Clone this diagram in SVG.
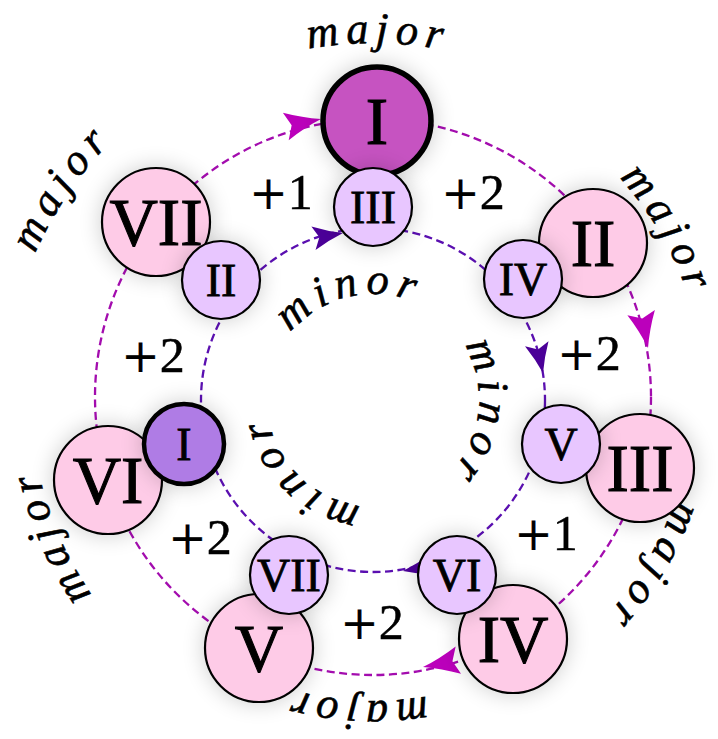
<svg xmlns="http://www.w3.org/2000/svg" xmlns:xlink="http://www.w3.org/1999/xlink" width="718" height="739" viewBox="0 0 718 739">
<style>
.bg{fill:#ffffff}
.outer{fill:#FECBE7;stroke:#000;stroke-width:2.2}
.inner{fill:#E8C6FF;stroke:#000;stroke-width:2.2}
.rn{font-family:"Liberation Serif","DejaVu Serif",serif;fill:#000;stroke:#000;text-anchor:middle}
.big{font-size:67px;stroke-width:1.1}
.small{font-size:46px;stroke-width:0.8}
.plus{font-family:"Liberation Serif","DejaVu Serif",serif;font-size:50px;fill:#000;stroke:#000;stroke-width:0.5;text-anchor:middle}
.pl{font-family:"DejaVu Serif","Liberation Serif",serif;font-size:46px;stroke-width:0.2}
.lab{font-family:"Liberation Serif","DejaVu Serif",serif;font-style:italic;font-size:44px;fill:#000;stroke:#000;stroke-width:0.6;letter-spacing:7px}
.odash{fill:none;stroke:#A30CAE;stroke-width:2.3;stroke-dasharray:8 4.5}
.idash{fill:none;stroke:#5A0FB0;stroke-width:2.3;stroke-dasharray:8 4.5}
.oarr{fill:#BB00BB}
.iarr{fill:#4B0098}
</style>
<defs>
<filter id="glow" x="-60%" y="-60%" width="220%" height="220%">
<feGaussianBlur in="SourceAlpha" stdDeviation="11"/>
<feComponentTransfer><feFuncA type="linear" slope="0.2"/></feComponentTransfer>
<feMerge><feMergeNode/><feMergeNode in="SourceGraphic"/></feMerge>
</filter>
<path id="oh" d="M0,0 Q-18,-5 -36,-14 L-30,0 L-36,14 Q-18,5 0,0 Z"/>
<path id="ih" d="M0,0 Q-15,-4.5 -30,-12 L-24,0 L-30,12 Q-15,4.5 0,0 Z"/>
<path id="p106" d="M0,106 A106 106 0 0 1 0,-106 A106 106 0 0 1 0,106"/>
<path id="p357" d="M0,357 A357 357 0 0 1 0,-357 A357 357 0 0 1 0,357"/>
<path id="p332" d="M0,332 A332 332 0 0 1 0,-332 A332 332 0 0 1 0,332"/>
<path id="p318" d="M0,318 A318 318 0 0 1 0,-318 A318 318 0 0 1 0,318"/>
<path id="p301" d="M0,301 A301 301 0 0 1 0,-301 A301 301 0 0 1 0,301"/>
<path id="p342" d="M0,342 A342 342 0 0 1 0,-342 A342 342 0 0 1 0,342"/>
<path id="p368" d="M0,368 A368 368 0 0 1 0,-368 A368 368 0 0 1 0,368"/>
</defs>
<rect class="bg" x="0" y="0" width="718" height="739"/>

<g id="connectors">
<circle class="odash" cx="373" cy="397" r="278"/>
<circle class="idash" cx="373" cy="400" r="172"/>
<use href="#oh" class="oarr" transform="translate(321,119) rotate(-12)"/>
<use href="#oh" class="oarr" transform="translate(648,348) rotate(79)"/>
<use href="#oh" class="oarr" transform="translate(423,667) rotate(169)"/>
<use href="#ih" class="iarr" transform="translate(343,233) rotate(-10)"/>
<use href="#ih" class="iarr" transform="translate(543,373) rotate(78)"/>
<use href="#ih" class="iarr" transform="translate(403,571) rotate(170)"/>
</g>

<g id="labels">
<g transform="translate(373,400) rotate(0.8)"><text class="lab"><textPath href="#p357" startOffset="50%" text-anchor="middle">major</textPath></text></g>
<g transform="translate(373,400) rotate(60)"><text class="lab"><textPath href="#p332" startOffset="50%" text-anchor="middle">major</textPath></text></g>
<g transform="translate(373,400) rotate(120.8)"><text class="lab"><textPath href="#p318" startOffset="50%" text-anchor="middle">major</textPath></text></g>
<g transform="translate(373,400) rotate(183.1)"><text class="lab"><textPath href="#p301" startOffset="50%" text-anchor="middle">major</textPath></text></g>
<g transform="translate(373,400) rotate(247)"><text class="lab"><textPath href="#p342" startOffset="50%" text-anchor="middle">major</textPath></text></g>
<g transform="translate(373,400) rotate(304.3)"><text class="lab"><textPath href="#p368" startOffset="50%" text-anchor="middle">major</textPath></text></g>
<g transform="translate(373,400) rotate(-13)"><text class="lab"><textPath href="#p106" startOffset="50%" text-anchor="middle">minor</textPath></text></g>
<g transform="translate(373,400) rotate(96.8)"><text class="lab"><textPath href="#p106" startOffset="50%" text-anchor="middle">minor</textPath></text></g>
<g transform="translate(373,400) rotate(224.5)"><text class="lab"><textPath href="#p106" startOffset="50%" text-anchor="middle">minor</textPath></text></g>
<text class="plus" x="281" y="209"><tspan class="pl">+</tspan>1</text>
<text class="plus" x="473" y="209"><tspan class="pl">+</tspan>2</text>
<text class="plus" x="589" y="370"><tspan class="pl">+</tspan>2</text>
<text class="plus" x="546" y="550"><tspan class="pl">+</tspan>1</text>
<text class="plus" x="372" y="639"><tspan class="pl">+</tspan>2</text>
<text class="plus" x="200" y="554"><tspan class="pl">+</tspan>2</text>
<text class="plus" x="153" y="372"><tspan class="pl">+</tspan>2</text>
</g>

<g id="node-major-I"><circle cx="377" cy="121" r="54" fill="#C652C1" stroke="#000" stroke-width="5.5" filter="url(#glow)"/><text class="rn big" x="377" y="143.5">I</text></g>
<g id="node-major-II"><circle class="outer" cx="593" cy="243" r="54" filter="url(#glow)"/><text class="rn big" x="593" y="265.5">II</text></g>
<g id="node-major-III"><circle class="outer" cx="640" cy="468" r="54" filter="url(#glow)"/><text class="rn big" x="640" y="490.5">III</text></g>
<g id="node-major-IV"><circle class="outer" cx="513" cy="639" r="54" filter="url(#glow)"/><text class="rn big" x="513" y="661.5">IV</text></g>
<g id="node-major-V"><circle class="outer" cx="259" cy="648" r="54" filter="url(#glow)"/><text class="rn big" x="259" y="670.5">V</text></g>
<g id="node-major-VI"><circle class="outer" cx="108" cy="480" r="54" filter="url(#glow)"/><text class="rn big" x="108" y="502.5">VI</text></g>
<g id="node-major-VII"><circle class="outer" cx="156" cy="222" r="54" filter="url(#glow)"/><text class="rn big" x="156" y="244.5">VII</text></g>

<g id="node-minor-III"><circle class="inner" cx="373" cy="207" r="39" filter="url(#glow)"/><text class="rn small" x="373" y="222.5">III</text></g>
<g id="node-minor-IV"><circle class="inner" cx="523" cy="279" r="39" filter="url(#glow)"/><text class="rn small" x="523" y="294.5">IV</text></g>
<g id="node-minor-V"><circle class="inner" cx="561" cy="444" r="39" filter="url(#glow)"/><text class="rn small" x="561" y="459.5">V</text></g>
<g id="node-minor-VI"><circle class="inner" cx="457" cy="575" r="39" filter="url(#glow)"/><text class="rn small" x="457" y="590.5">VI</text></g>
<g id="node-minor-VII"><circle class="inner" cx="289" cy="575" r="39" filter="url(#glow)"/><text class="rn small" x="289" y="590.5">VII</text></g>
<g id="node-minor-I"><circle cx="184" cy="444" r="40" fill="#AF7BE5" stroke="#000" stroke-width="4.5" filter="url(#glow)"/><text class="rn small" x="184" y="459.5">I</text></g>
<g id="node-minor-II"><circle class="inner" cx="221" cy="280" r="39" filter="url(#glow)"/><text class="rn small" x="221" y="295.5">II</text></g>
</svg>
